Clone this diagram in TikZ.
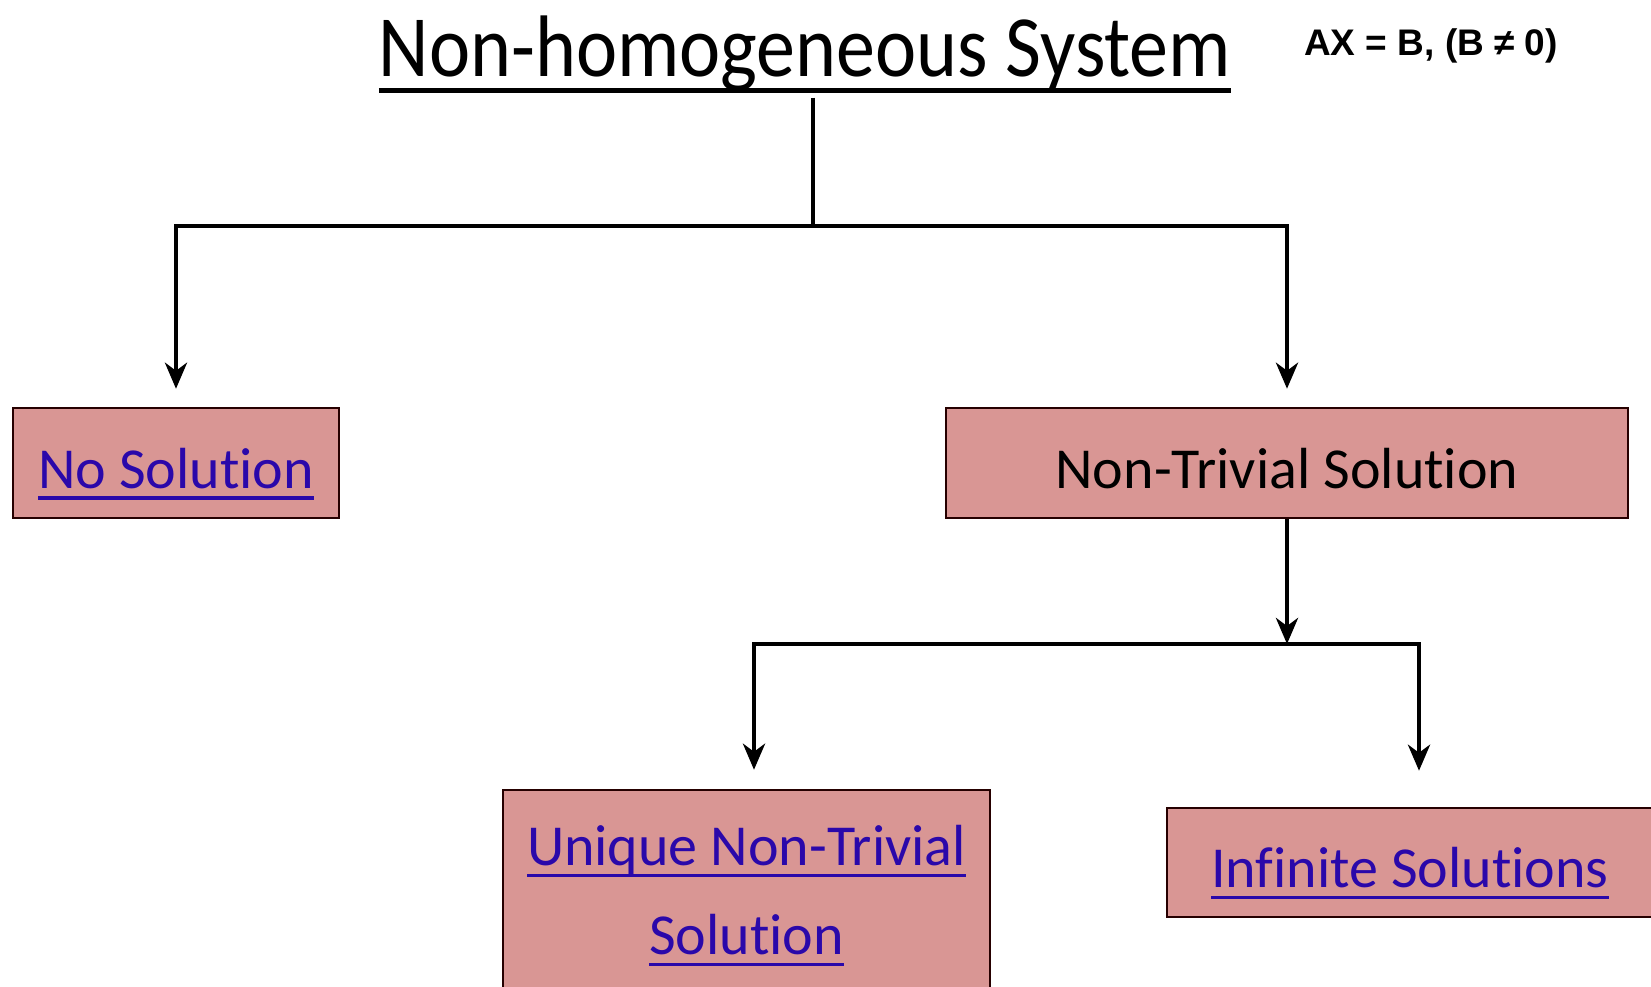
\documentclass[tikz,border=0pt]{standalone}
\usepackage{graphicx}
\usepackage{fontspec}
\setmainfont{Carlito}[Ligatures=NoCommon]
\newfontfamily\eqfont{Liberation Sans}
\usetikzlibrary{arrows.meta,positioning}

\definecolor{boxpink}{RGB}{217,150,148}
\definecolor{linkblue}{RGB}{42,8,170}

% underlined text, rule below the baseline
\newcommand{\ulined}[3]{\vtop{\hbox{\smash{#1}}\kern#2\hrule height #3}}

\tikzset{
    solbox/.style={draw=black!85!red, line width=2.5pt, fill=boxpink, inner sep=0pt,
        font=\fontsize{58}{89}\selectfont},
    oneline/.style={text height=56pt, text depth=6pt},
    link/.style={text=linkblue},
    arr/.style={line width=4.5pt, -{Stealth[length=26pt, width=22pt, inset=8pt]}},
    bar/.style={line width=4.5pt}
}

\begin{document}
\begin{tikzpicture}[x=1pt, y=-1pt]
\useasboundingbox (0,0) rectangle (1651,986);

\node[anchor=base, font=\fontsize{78}{90}\selectfont, inner sep=0pt] (title) at (805,76)
    {\ulined{\scalebox{1}[1.12]{Non-homogeneous System}}{12pt}{4.5pt}};
\node[anchor=base west, font=\eqfont\bfseries\fontsize{37}{40}\selectfont, inner sep=0pt] (eq) at (1304,55)
    {AX = B, (B ≠ 0)};

\coordinate (fork1) at (813,226);
\coordinate (fork2) at (1287,644);

\node[solbox, oneline, link, minimum width=326pt, minimum height=110pt] (nosol) at (176,463)
    {\ulined{No Solution}{8pt}{3.5pt}};
\node[solbox, oneline, minimum width=682pt, minimum height=110pt] (nontriv) at (1287,463)
    {Non-Trivial Solution};
\node[solbox, link, minimum width=487pt, minimum height=252pt, align=center] (unique) at (746.5,916)
    {\ulined{Unique Non-Trivial}{8pt}{3.5pt}\\[0pt]\ulined{Solution}{8pt}{3.5pt}};
\node[solbox, oneline, link, minimum width=486pt, minimum height=109pt] (infinite) at (1410,862.5)
    {\ulined{Infinite Solutions}{8pt}{3.5pt}};

% first level
\draw[bar] (title.south -| fork1) ++(0,5) -- (fork1);
\draw[arr, shorten >=18pt] (fork1) -| (nosol);
\draw[arr, shorten >=18pt] (fork1) -| (nontriv);

% second level
\draw[arr] (nontriv) -- (fork2);
\draw[arr, shorten >=19pt] (fork2) -| ([xshift=7.5pt]unique.north);
\draw[arr, shorten >=36pt] (fork2) -| ([xshift=9pt]infinite.north);
\end{tikzpicture}
\end{document}
